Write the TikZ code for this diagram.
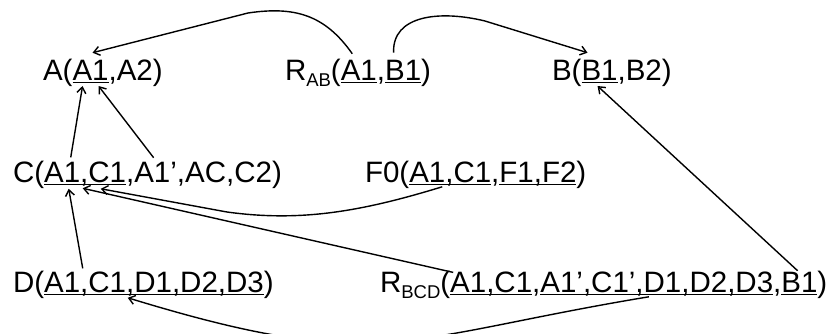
\documentclass[tikz,border=0pt]{standalone}
\usepackage{fontspec}
\setmainfont{Liberation Sans}
\usetikzlibrary{arrows.meta,calc}
\newsavebox\ulbox
\newcommand\ulx[1]{\sbox\ulbox{#1}\rlap{\rule[-3pt]{\wd\ulbox}{1.5pt}}\usebox\ulbox}
\newcommand\subtxt[1]{\raisebox{-6pt}{\fontsize{18.5}{20}\selectfont #1}}
\begin{document}
\begin{tikzpicture}[x=1pt,y=-1pt,
  txt/.style={inner sep=0pt,outer sep=0pt,anchor=base west,font=\fontsize{29.5}{35}\selectfont},
  arr/.style={-{Straight Barb[length=6pt,width=9pt]},line width=1.4pt}]
\useasboundingbox (0,0) rectangle (828,333);
% Row 1
\node[txt] (A0) at (43,80) {A(};
\node[txt] (Ak) at (A0.base east) {\ulx{A1}};
\node[txt] (A2) at (Ak.base east) {,A2)};
\node[txt] (R0) at (285,80) {R\subtxt{AB}(};
\node[txt] (Rk1) at (R0.base east) {\ulx{A1}};
\node[txt] (R1) at (Rk1.base east) {,};
\node[txt] (Rk2) at (R1.base east) {\ulx{B1}};
\node[txt] (R2) at (Rk2.base east) {)};
\node[txt] (B0) at (552,80) {B(};
\node[txt] (Bk) at (B0.base east) {\ulx{B1}};
\node[txt] (B2) at (Bk.base east) {,B2)};
% Row 2
\node[txt] (C0) at (13,182) {C(};
\node[txt] (Ck) at (C0.base east) {\ulx{A1,C1}};
\node[txt] (C1) at (Ck.base east) {,};
\node[txt] (Cp) at (C1.base east) {A1’};
\node[txt] (C2) at (Cp.base east) {,AC,C2)};
\node[txt] (F0) at (365,182) {F0(};
\node[txt] (Fk1) at (F0.base east) {\ulx{A1,C1}};
\node[txt] (F1) at (Fk1.base east) {,};
\node[txt] (Fk2) at (F1.base east) {\ulx{F1,F2}};
\node[txt] (F2) at (Fk2.base east) {)};
% Row 3
\node[txt] (D0) at (13,292) {D(};
\node[txt] (Dk) at (D0.base east) {\ulx{A1,C1,D1,D2,D3}};
\node[txt] (D2) at (Dk.base east) {)};
\node[txt] (S0) at (380,292) {R\subtxt{BCD}(};
\node[txt] (Sk1) at (S0.base east) {\ulx{A1,C1}};
\node[txt] (S1) at (Sk1.base east) {,};
\node[txt] (Sk2) at (S1.base east) {\ulx{A1’,C1’,D1,D2,D3}};
\node[txt] (S2) at (Sk2.base east) {,};
\node[txt] (Sk3) at (S2.base east) {\ulx{B1}};
\node[txt] (S3) at (Sk3.base east) {)};
% Connectors
\draw[arr] ($(Rk1.north)+(-6.6,-6)$) .. controls (325,15) and (295,6) .. (248,13) -- ($(Ak.north)+(2,-7)$);
\draw[arr] ($(Rk2.north)+(-9.5,-7)$) .. controls (392,15) and (440,10) .. (485,21) -- ($(Bk.north)+(-12,-7)$);
\draw[arr] ($(Ck.north west)+(26.6,-4)$) -- ($(Ak.south)+(-8,3)$);
\draw[arr] ($(Cp.north)+(-2,-4)$) -- ($(Ak.south)+(8,3)$);
\draw[arr] ($(Dk.north west)+(38.6,-3)$) -- ($(Ck.south west)+(24.6,3)$);
\draw[arr] ($(Sk1.north west)+(3,1)$) -- ($(Ck.south west)+(38.6,2.5)$);
\draw[arr] ($(Fk1.south)+(-8,1)$) .. controls (360,212) and (300,222) .. (227,212) -- ($(Ck.south west)+(56.6,3)$);
\draw[arr] ($(Sk3.north west)+(16.2,-1)$) -- ($(Bk.south)+(-2,3)$);
\draw[arr] ($(Sk2.south west)+(108.5,1)$) .. controls (400,338) and (380,375) .. ($(Dk.south west)+(83.6,2)$);
\end{tikzpicture}
\end{document}
